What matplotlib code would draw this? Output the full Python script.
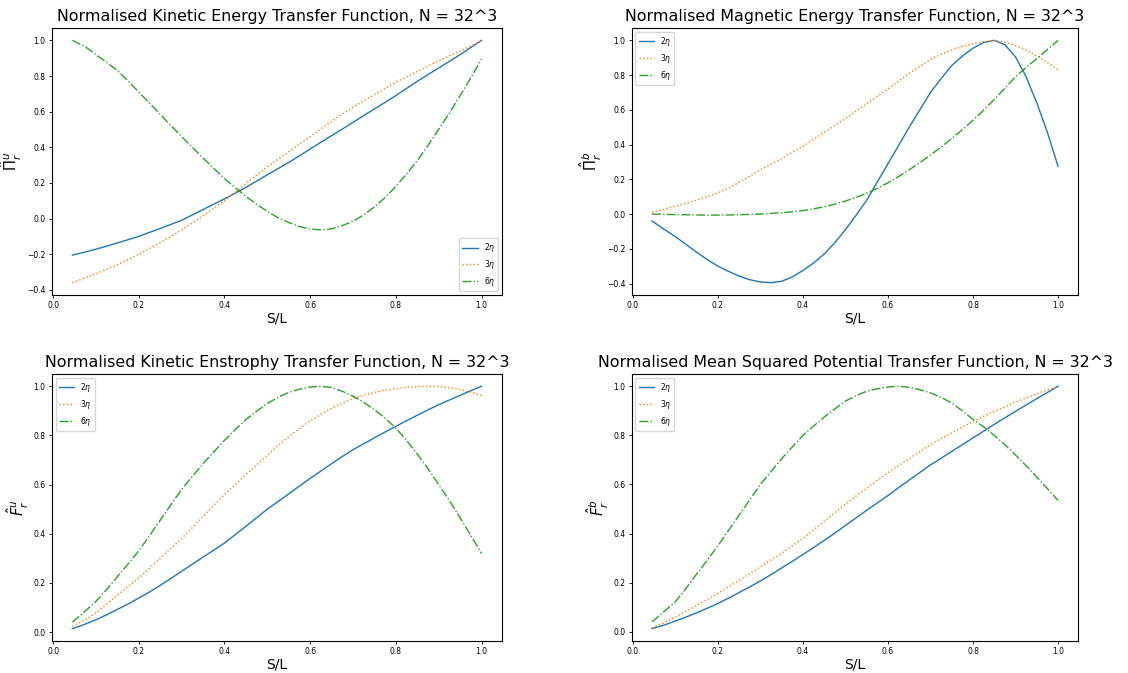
import numpy as np
import matplotlib
matplotlib.use("Agg")
import matplotlib.pyplot as plt

# separation S/L
s_over_l = [0.045, 0.075, 0.1,
            0.125, 0.15, 0.175, 0.2,
            0.225, 0.25, 0.275, 0.3,
            0.325, 0.35, 0.375, 0.4,
            0.425, 0.45, 0.475, 0.5,
            0.525, 0.55, 0.575, 0.6,
            0.625, 0.65, 0.675, 0.7,
            0.725, 0.75, 0.775, 0.8,
            0.825, 0.85, 0.875, 0.9,
            0.925, 0.95, 0.975, 1.0]
labels = [r'$2\eta$', r'$3\eta$', r'$6\eta$']

# kinetic energy transfer
pi_u_2 = [-0.205, -0.188, -0.172,
          -0.155, -0.137, -0.119, -0.10,
          -0.078, -0.056, -0.033, -0.01,
          0.02, 0.05, 0.08, 0.11,
          0.142, 0.175, 0.21, 0.245,
          0.28, 0.315, 0.352, 0.39,
          0.428, 0.465, 0.502, 0.54,
          0.578, 0.615, 0.652, 0.69,
          0.73, 0.77, 0.808, 0.845,
          0.882, 0.92, 0.96, 1.0]
pi_u_3 = [-0.36, -0.333, -0.31,
          -0.285, -0.26, -0.231, -0.20,
          -0.168, -0.135, -0.10, -0.065,
          -0.025, 0.015, 0.057, 0.10,
          0.147, 0.195, 0.243, 0.29,
          0.333, 0.375, 0.418, 0.46,
          0.503, 0.545, 0.586, 0.625,
          0.661, 0.695, 0.73, 0.765,
          0.795, 0.825, 0.855, 0.885,
          0.913, 0.94, 0.968, 1.0]
pi_u_6 = [1.0, 0.965, 0.92,
          0.877, 0.83, 0.772, 0.71,
          0.648, 0.585, 0.522, 0.46,
          0.40, 0.34, 0.282, 0.225,
          0.173, 0.125, 0.08, 0.04,
          0.005, -0.022, -0.045, -0.058,
          -0.064, -0.058, -0.04, -0.015,
          0.02, 0.065, 0.118, 0.18,
          0.25, 0.325, 0.41, 0.50,
          0.592, 0.69, 0.79, 0.895]

# magnetic energy transfer
pi_b_2 = [-0.04, -0.09, -0.13,
          -0.175, -0.22, -0.262, -0.30,
          -0.33, -0.357, -0.378, -0.391,
          -0.395, -0.387, -0.362, -0.325,
          -0.282, -0.23, -0.165, -0.09,
          -0.007, 0.08, 0.185, 0.29,
          0.395, 0.50, 0.60, 0.70,
          0.78, 0.855, 0.91, 0.955,
          0.988, 1.0, 0.975, 0.905,
          0.79, 0.64, 0.47, 0.275]
pi_b_3 = [0.01, 0.028, 0.045,
          0.062, 0.08, 0.10, 0.122,
          0.15, 0.183, 0.218, 0.255,
          0.288, 0.32, 0.355, 0.39,
          0.43, 0.47, 0.51, 0.55,
          0.592, 0.635, 0.678, 0.72,
          0.765, 0.81, 0.85, 0.89,
          0.92, 0.945, 0.965, 0.98,
          0.993, 1.0, 0.99, 0.97,
          0.945, 0.91, 0.872, 0.83]
pi_b_6 = [0.0, -0.002, -0.003,
          -0.004, -0.005, -0.006, -0.006,
          -0.005, -0.004, -0.002, 0.0,
          0.004, 0.008, 0.013, 0.02,
          0.03, 0.042, 0.057, 0.075,
          0.096, 0.12, 0.148, 0.18,
          0.216, 0.255, 0.296, 0.34,
          0.386, 0.435, 0.486, 0.54,
          0.598, 0.66, 0.725, 0.79,
          0.845, 0.895, 0.948, 1.0]

# kinetic enstrophy transfer
f_u_2 = [0.014, 0.032, 0.05,
         0.07, 0.092, 0.114, 0.138,
         0.163, 0.19, 0.218, 0.247,
         0.276, 0.305, 0.333, 0.362,
         0.396, 0.43, 0.465, 0.50,
         0.531, 0.562, 0.594, 0.625,
         0.655, 0.685, 0.714, 0.742,
         0.766, 0.79, 0.814, 0.837,
         0.86, 0.882, 0.904, 0.925,
         0.944, 0.963, 0.982, 1.0]
f_u_3 = [0.023, 0.05, 0.078,
         0.113, 0.15, 0.185, 0.22,
         0.26, 0.30, 0.34, 0.38,
         0.425, 0.47, 0.515, 0.56,
         0.60, 0.64, 0.68, 0.72,
         0.758, 0.795, 0.828, 0.86,
         0.886, 0.91, 0.931, 0.95,
         0.964, 0.975, 0.984, 0.99,
         0.996, 0.999, 1.0, 0.999,
         0.994, 0.987, 0.976, 0.962]
f_u_6 = [0.04, 0.085, 0.125,
         0.173, 0.225, 0.277, 0.33,
         0.392, 0.455, 0.518, 0.58,
         0.633, 0.685, 0.733, 0.78,
         0.823, 0.865, 0.898, 0.93,
         0.955, 0.975, 0.988, 0.997,
         1.0, 0.995, 0.98, 0.96,
         0.935, 0.905, 0.87, 0.83,
         0.78, 0.725, 0.665, 0.60,
         0.535, 0.465, 0.393, 0.32]

# mean squared potential transfer
f_b_2 = [0.013, 0.028, 0.044,
         0.06, 0.077, 0.096, 0.115,
         0.137, 0.16, 0.183, 0.207,
         0.233, 0.26, 0.287, 0.315,
         0.343, 0.372, 0.402, 0.433,
         0.464, 0.495, 0.525, 0.555,
         0.587, 0.618, 0.649, 0.68,
         0.707, 0.735, 0.762, 0.79,
         0.817, 0.845, 0.872, 0.898,
         0.924, 0.95, 0.975, 1.0]
f_b_3 = [0.016, 0.038, 0.06,
         0.083, 0.107, 0.131, 0.156,
         0.183, 0.21, 0.237, 0.265,
         0.292, 0.32, 0.35, 0.38,
         0.415, 0.45, 0.485, 0.52,
         0.553, 0.585, 0.617, 0.648,
         0.677, 0.705, 0.734, 0.763,
         0.787, 0.81, 0.834, 0.857,
         0.878, 0.898, 0.917, 0.936,
         0.953, 0.97, 0.985, 1.0]
f_b_6 = [0.04, 0.085, 0.122,
         0.177, 0.235, 0.292, 0.35,
         0.413, 0.475, 0.538, 0.60,
         0.653, 0.705, 0.753, 0.80,
         0.838, 0.875, 0.908, 0.94,
         0.962, 0.98, 0.99, 0.997,
         1.0, 0.996, 0.986, 0.973,
         0.955, 0.932, 0.90, 0.865,
         0.835, 0.80, 0.762, 0.72,
         0.676, 0.63, 0.583, 0.535]

panels = [
    ('Normalised Kinetic Energy Transfer Function, N = 32^3',
     r'$\hat{\Pi}^u_r$', [pi_u_2, pi_u_3, pi_u_6], 'lower right'),
    ('Normalised Magnetic Energy Transfer Function, N = 32^3',
     r'$\hat{\Pi}^b_r$', [pi_b_2, pi_b_3, pi_b_6], 'upper left'),
    ('Normalised Kinetic Enstrophy Transfer Function, N = 32^3',
     r'$\hat{F}^u_r$', [f_u_2, f_u_3, f_u_6], 'upper left'),
    ('Normalised Mean Squared Potential Transfer Function, N = 32^3',
     r'$\hat{F}^b_r$', [f_b_2, f_b_3, f_b_6], 'upper left'),
]

styles = ['-', ':', '-.']
rects = [
    [0.046, 0.562, 0.399, 0.396],
    [0.560, 0.562, 0.396, 0.396],
    [0.046, 0.048, 0.399, 0.396],
    [0.560, 0.048, 0.396, 0.396],
]

fig = plt.figure(figsize=(11.28, 6.73), dpi=100)
for rect, (title, ylab, series, loc) in zip(rects, panels):
    ax = fig.add_axes(rect)
    for vals, ls, lab in zip(series, styles, labels):
        ax.plot(s_over_l, vals, linestyle=ls, linewidth=1.0, label=lab)
    ax.set_title(title, fontsize=11.4, pad=5)
    ax.set_xlabel('S/L', fontsize=10, labelpad=1)
    ax.set_ylabel(ylab, fontsize=10.5, labelpad=2)
    ax.tick_params(labelsize=5.5, length=2.5, width=0.6, pad=2)
    ax.legend(loc=loc, fontsize=5.5)

fig.savefig('out.png', dpi=100)
